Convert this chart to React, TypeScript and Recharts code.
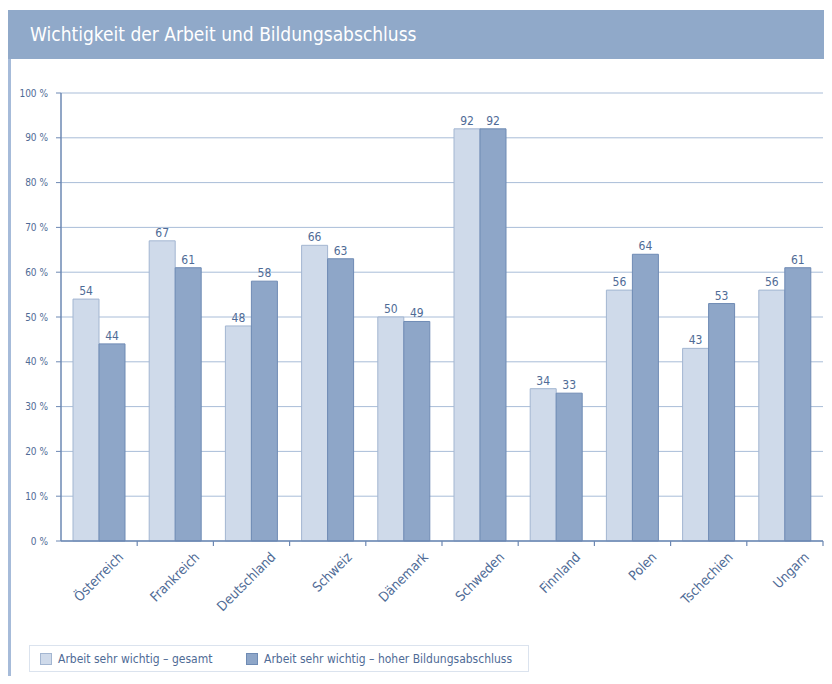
import React from 'react';
import { BarChart, Bar, XAxis, YAxis, CartesianGrid, LabelList } from 'recharts';

const countries = ['Österreich', 'Frankreich', 'Deutschland', 'Schweiz', 'Dänemark', 'Schweden', 'Finnland', 'Polen', 'Tschechien', 'Ungarn'];
const gesamt = [54, 67, 48, 66, 50, 92, 34, 56, 43, 56];
const hoherAbschluss = [44, 61, 58, 63, 49, 92, 33, 64, 53, 61];
const yTicks = [0, 10, 20, 30, 40, 50, 60, 70, 80, 90, 100];

const seriesNames = ['Arbeit sehr wichtig – gesamt', 'Arbeit sehr wichtig – hoher Bildungsabschluss'];

const data = countries.map((c, i) => ({ country: c, gesamt: gesamt[i], hoch: hoherAbschluss[i] }));

const FONT = '"DejaVu Sans Condensed", "Liberation Sans Narrow", Roboto, sans-serif';
const LIGHT = '#cfdaea';
const LIGHT_EDGE = '#a3b6d1';
const DARK = '#8ea6c8';
const DARK_EDGE = '#6f8bb4';
const AXIS = '#6d88b3';
const GRID = '#a9bdd8';
const TEXT = '#4f6b96';

const CountryTick = (props: any) => {
    const { x, y, payload } = props;
    const half = payload.offset ?? 38.2;
    return (
        <g>
            <line x1={x + half} x2={x + half} y1={y} y2={y + 5} stroke={AXIS} strokeWidth={1.2} />
            <text
                transform={`translate(${x + 25},${y + 17}) rotate(-45)`}
                textAnchor="end"
                fill={TEXT}
                fontSize={13.5}
                fontFamily={FONT}
            >
                {payload.value}
            </text>
        </g>
    );
};

const legendText: React.CSSProperties = { position: 'absolute', top: 5, whiteSpace: 'nowrap', lineHeight: '16px' };
const swatch = (fill: string, edge: string, left: number): React.CSSProperties => ({
    position: 'absolute', left, top: 7, width: 12, height: 12, background: fill, border: `1px solid ${edge}`, boxSizing: 'border-box',
});

const App: React.FC = () => {
    return (
        <div style={{ position: 'relative', width: 832, height: 684, margin: -8, background: '#fff', overflow: 'hidden', fontFamily: FONT }}>
            <div style={{ position: 'absolute', left: 8, top: 58, width: 3, height: 626, background: '#a6bbd9' }} />
            <div style={{ position: 'absolute', left: 6, top: 10, right: 0, height: 49, background: '#90a9c9', color: '#fff', fontSize: 19, lineHeight: '49px', paddingLeft: 24, boxSizing: 'border-box' }}>
                Wichtigkeit der Arbeit und Bildungsabschluss
            </div>
            <div style={{ position: 'absolute', top: 0, left: 0 }}>
                <BarChart width={832} height={640} data={data} margin={{ top: 93, right: 9, left: 0, bottom: 39 }} barCategoryGap={12} barGap={0}>
                    <CartesianGrid vertical={false} stroke={GRID} strokeWidth={1} />
                    <XAxis
                        dataKey="country"
                        height={60}
                        axisLine={{ stroke: AXIS, strokeWidth: 1.5 }}
                        tickLine={false}
                        tickSize={0}
                        tickMargin={0}
                        interval={0}
                        tick={<CountryTick />}
                    />
                    <YAxis
                        width={61}
                        domain={[0, 100]}
                        ticks={yTicks}
                        tickFormatter={(v: number) => `${v} %`}
                        tickSize={5}
                        tickMargin={8}
                        axisLine={{ stroke: AXIS, strokeWidth: 1.5 }}
                        tickLine={{ stroke: AXIS }}
                        tick={{ fill: TEXT, fontSize: 10, fontFamily: FONT }}
                    />
                    <YAxis yAxisId="r" orientation="right" width={0} domain={[0, 100]} tick={false} tickLine={false} axisLine={{ stroke: GRID }} />
                    <Bar dataKey="gesamt" fill={LIGHT} stroke={LIGHT_EDGE} strokeWidth={1} isAnimationActive={false}>
                        <LabelList dataKey="gesamt" position="top" offset={4} fill={TEXT} fontSize={12} fontFamily={FONT} />
                    </Bar>
                    <Bar dataKey="hoch" fill={DARK} stroke={DARK_EDGE} strokeWidth={1} isAnimationActive={false}>
                        <LabelList dataKey="hoch" position="top" offset={4} fill={TEXT} fontSize={12} fontFamily={FONT} />
                    </Bar>
                </BarChart>
            </div>
            <div style={{ position: 'absolute', left: 29, top: 645, width: 500, height: 27, border: '1px solid #dbe3ee', boxSizing: 'border-box', color: TEXT, fontSize: 12 }}>
                <span style={swatch(LIGHT, LIGHT_EDGE, 10)} />
                <span style={{ ...legendText, left: 28 }}>{seriesNames[0]}</span>
                <span style={swatch(DARK, DARK_EDGE, 216)} />
                <span style={{ ...legendText, left: 234 }}>{seriesNames[1]}</span>
            </div>
        </div>
    );
};

export default App;
